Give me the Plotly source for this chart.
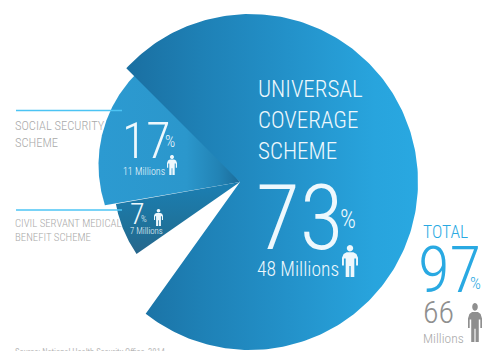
import numpy as np
import plotly.graph_objects as go

# Coverage figures by health scheme
schemes = ["UNIVERSAL<br>COVERAGE<br>SCHEME", "SOCIAL SECURITY<br>SCHEME", "CIVIL SERVANT MEDICAL<br>BENEFIT SCHEME"]
shares = [73, 17, 7]
millions = [48, 11, 7]
total_share = 97
total_millions = 66
source_note = "Source: National Health Security Office, 2014"

W, H = 483, 351
APEX = (240.0, 182.0)
DEG_PER_PCT = 3.57
NARROW = "Roboto Condensed"
CYAN = "#29a9e2"
WHITE = "#eef8fd"


def wedge(start, sweep, centre, radius):
    """Outline of a slice from APEX, clockwise from `start` degrees, ending on a circle."""
    angles = np.radians(np.linspace(start, start + sweep, 240))
    dx, dy = np.sin(angles), -np.cos(angles)
    ox, oy = APEX[0] - centre[0], APEX[1] - centre[1]
    b = ox * dx + oy * dy
    t = -b + np.sqrt(b ** 2 - (ox ** 2 + oy ** 2 - radius ** 2))
    xs = np.r_[APEX[0], APEX[0] + t * dx, APEX[0]]
    ys = np.r_[APEX[1], APEX[1] + t * dy, APEX[1]]
    return xs, ys


def slice_trace(share, start, centre, radius, kind, stops):
    xs, ys = wedge(start, share * DEG_PER_PCT, centre, radius)
    return go.Scatter(
        x=xs, y=ys, mode="lines", fill="toself", line=dict(width=0), hoverinfo="skip",
        fillgradient=dict(type=kind, colorscale=stops),
    )


fig = go.Figure()

# The social security slice runs on underneath the universal coverage slice
lower_edge = 260.0
fig.add_trace(slice_trace(shares[1], lower_edge, (228, 165), 129.5, "horizontal",
                          [[0, "#2c9ad1"], [0.62, "#2b97cc"], [0.85, "#2283b5"], [1, "#1b6c9a"]]))
fig.add_trace(slice_trace(shares[2], lower_edge - shares[2] * DEG_PER_PCT, APEX, 126, "vertical",
                          [[0, "#27668c"], [0.35, "#1f7199"], [1, "#1b7fb3"]]))
fig.add_trace(slice_trace(shares[0], 315.0, (250, 182), 168, "horizontal",
                          [[0, "#1a6fa1"], [0.25, "#1e80b5"], [0.55, "#2391c9"], [0.85, "#28a4dd"], [1, "#29a8e1"]]))

# Leader rules above the two side labels
for rule_y in (110.5, 210):
    fig.add_shape(type="line", x0=16, x1=122, y0=rule_y, y1=rule_y, line=dict(color="#4cc4f4", width=1.5))


def person(x, y, w, h, color):
    """Small standing figure used beside each head count."""
    theta = np.linspace(0, 2 * np.pi, 16)[:-1]
    head = [(x + w * (0.5 + 0.2 * np.cos(a)), y + h * (0.1 + 0.1 * np.sin(a))) for a in theta]
    body = [(.29, .23), (.71, .23), (.9, .28), (1, .4), (1, .64), (.88, .64), (.88, .42), (.77, .42), (.77, 1),
            (.54, 1), (.54, .66), (.46, .66), (.46, 1), (.23, 1), (.23, .42), (.12, .42), (.12, .64), (0, .64),
            (0, .4), (.1, .28)]
    body = [(x + w * px, y + h * py) for px, py in body]
    to_path = lambda pts: "M" + " L".join(f"{a:.2f},{b:.2f}" for a, b in pts) + " Z"
    fig.add_shape(type="path", path=to_path(head) + " " + to_path(body),
                  fillcolor=color, line=dict(width=0), layer="above")


person(167, 155, 10, 20, WHITE)
person(154, 209, 9, 17, WHITE)
person(342, 245, 16, 32, WHITE)
person(468, 303, 14, 39, "#8f8f8f")


def label(x, y, text, size, color, weight=300, anchor="middle"):
    fig.add_annotation(x=x, y=y, text=text, showarrow=False, xanchor="left", yanchor=anchor,
                       font=dict(family=NARROW, size=size, color=color, weight=weight),
                       xref="x", yref="y", borderpad=0, borderwidth=0)


# Universal coverage block
for line, y in zip(schemes[0].split("<br>"), (89, 120, 151)):
    label(258, y, line, 23, WHITE)
label(256, 218, str(shares[0]), 90, WHITE)
label(340, 219, "%", 25, WHITE)
label(257, 269, f"{millions[0]} Millions", 19.5, WHITE)

# Social security block
for line, y in zip(schemes[1].split("<br>"), (125, 142)):
    label(15, y, line, 12.5, "#a9a9a9")
label(122, 141, str(shares[1]), 50, WHITE)
label(165, 141, "%", 16, WHITE)
label(123, 171, f"{millions[1]} Millions", 10, WHITE)

# Civil servant block
for line, y in zip(schemes[2].split("<br>"), (223, 237)):
    label(15, y, line, 10.8, "#a9a9a9")
label(130, 213, str(shares[2]), 30, WHITE)
label(141, 219, "%", 9, WHITE)
label(130, 231, f"{millions[2]} Millions", 8.8, WHITE)

# Overall total
label(423, 232, "TOTAL", 17.5, CYAN)
label(418, 270, str(total_share), 65, CYAN)
label(470, 283, "%", 17, CYAN)
label(423, 312, str(total_millions), 32, "#8f8f8f")
label(423, 338, "Millions", 13.5, "#a8a8a8")

# Footnote, running off the bottom of the page
label(15, 347, source_note, 8.5, "#b8b8b8", 400, anchor="top")

fig.update_layout(
    width=W, height=H, margin=dict(l=0, r=0, t=0, b=0), showlegend=False,
    paper_bgcolor="white", plot_bgcolor="white",
    xaxis=dict(range=[0, W], visible=False, fixedrange=True),
    yaxis=dict(range=[H, 0], visible=False, fixedrange=True),
)
fig.write_html("out.html", config={"displayModeBar": False})
